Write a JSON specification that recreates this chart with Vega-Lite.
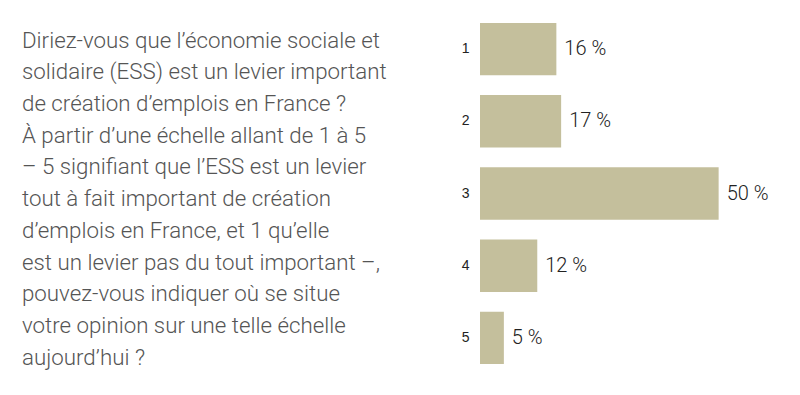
{
  "$schema": "https://vega.github.io/schema/vega-lite/v6.json",
  "width": 315,
  "height": 361,
  "autosize": "none",
  "padding": {"left": 480, "top": 13, "right": 5, "bottom": 21},
  "background": "#ffffff",
  "title": {
    "text": [
      "Diriez-vous que l’économie sociale et",
      "solidaire (ESS) est un levier important",
      "de création d’emplois en France ?",
      "À partir d’une échelle allant de 1 à 5",
      "– 5 signifiant que l’ESS est un levier",
      "tout à fait important de création",
      "d’emplois en France, et 1 qu’elle",
      "est un levier pas du tout important –,",
      "pouvez-vous indiquer où se situe",
      "votre opinion sur une telle échelle",
      "aujourd’hui ?"
    ],
    "anchor": "start",
    "frame": "group",
    "orient": "top",
    "offset": 0,
    "baseline": "top",
    "dx": -458,
    "dy": 356,
    "font": "Roboto",
    "fontSize": 22.3,
    "fontWeight": 300,
    "lineHeight": 31.7,
    "color": "#555555"
  },
  "data": {
    "values": [
      {"note": "1", "pct": 16, "label": "16 %"},
      {"note": "2", "pct": 17, "label": "17 %"},
      {"note": "3", "pct": 50, "label": "50 %"},
      {"note": "4", "pct": 12, "label": "12 %"},
      {"note": "5", "pct": 5, "label": "5 %"}
    ]
  },
  "encoding": {
    "y": {
      "field": "note",
      "type": "ordinal",
      "sort": null,
      "scale": {"paddingInner": 0.274, "paddingOuter": 0.137},
      "axis": {
        "title": null,
        "domain": false,
        "ticks": false,
        "labelPadding": 11,
        "labelFont": "Liberation Sans",
        "labelFontSize": 14,
        "labelColor": "#222222"
      }
    },
    "x": {
      "field": "pct",
      "type": "quantitative",
      "scale": {"domain": [0, 66], "nice": false},
      "axis": null
    }
  },
  "layer": [
    {"mark": {"type": "bar", "color": "#c4bf9c"}},
    {
      "mark": {
        "type": "text",
        "align": "left",
        "baseline": "middle",
        "dx": 8,
        "font": "Roboto",
        "fontWeight": 300,
        "fontSize": 20,
        "color": "#222222"
      },
      "encoding": {"text": {"field": "label"}}
    }
  ],
  "config": {"view": {"stroke": null}}
}
